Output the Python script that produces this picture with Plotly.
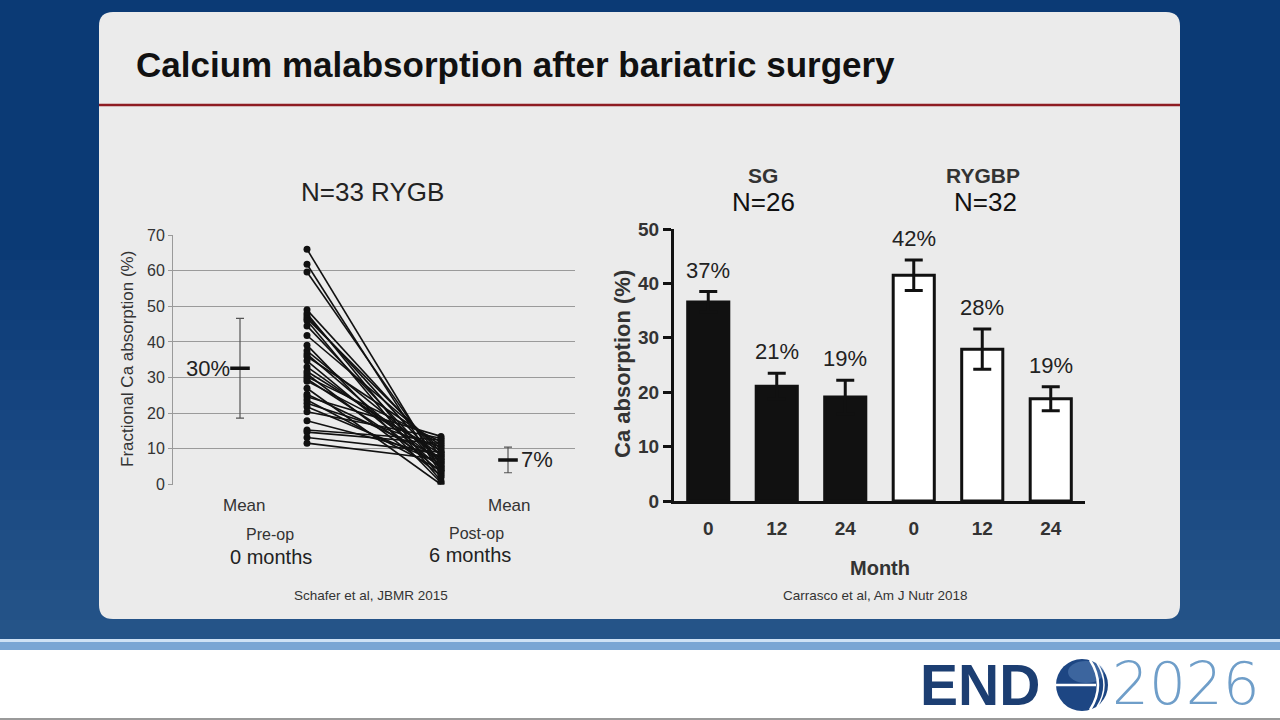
import plotly.graph_objects as go

W, H = 1280, 720
def px(x): return x / W
def py(y): return 1 - y / H

FONT = "Liberation Sans, Arial, sans-serif"

# ---------------- Left chart data (Schafer et al) ----------------
pre_op = [66.0, 61.8, 59.6, 49.0, 48.0, 47.3, 46.6, 46.0, 44.5, 41.8, 39.1,
          37.5, 36.6, 35.9, 34.7, 33.0, 31.7, 31.0, 30.2, 29.6, 29.0, 27.0,
          25.3, 24.6, 23.7, 22.8, 21.8, 20.4, 17.9, 15.3, 14.7, 13.2, 11.6]
post_op = [4.0, 3.0, 5.5, 8.0, 2.0, 6.0, 9.0, 1.0, 5.0, 10.0, 0.5,
           7.0, 4.5, 11.0, 3.5, 6.5, 8.5, 2.5, 12.0, 5.0, 9.5, 0.0,
           7.5, 13.5, 4.0, 10.5, 6.0, 13.0, 8.0, 12.5, 11.5, 9.0, 7.0]
means = [32.6, 6.9]
mean_err = [14.0, 3.6]
mean_labels = ["30%", "7%"]
left_cats = ["Mean", "Pre-op", "Post-op", "Mean"]
left_pos = [1, 2, 4, 5]

# ---------------- Right chart data (Carrasco et al) ----------------
month_labels = ["0", "12", "24", "0", "12", "24"]
sg_vals = [36.6, 21.1, 19.1]
sg_err = [1.9, 2.4, 3.1]
ry_vals = [41.5, 27.9, 18.8]
ry_err = [2.8, 3.7, 2.2]
pct_labels = ["37%", "21%", "19%", "42%", "28%", "19%"]

fig = go.Figure()

# paired lines
lx, ly = [], []
for a, b in zip(pre_op, post_op):
    lx += [left_pos[1], left_pos[2], None]
    ly += [a, b, None]
fig.add_trace(go.Scatter(x=lx, y=ly, mode="lines+markers",
                         line=dict(color="#111111", width=1.6),
                         marker=dict(color="#111111", size=7),
                         xaxis="x", yaxis="y", showlegend=False, hoverinfo="skip"))
# means with error bars
fig.add_trace(go.Scatter(x=[left_pos[0], left_pos[3]], y=means, mode="markers",
                         marker=dict(symbol="line-ew", size=14,
                                     line=dict(color="#111111", width=3.5)),
                         error_y=dict(type="data", array=mean_err, color="#555555",
                                      thickness=1.2, width=4),
                         xaxis="x", yaxis="y", showlegend=False))

# bars
fig.add_trace(go.Bar(x=[0, 1, 2], y=sg_vals, width=0.6,
                     marker=dict(color="#111111", line=dict(color="#111111", width=3)),
                     error_y=dict(type="data", array=sg_err, color="#111111",
                                  thickness=3, width=9),
                     xaxis="x2", yaxis="y2", showlegend=False))
fig.add_trace(go.Bar(x=[3, 4, 5], y=ry_vals, width=0.6,
                     marker=dict(color="#ffffff", line=dict(color="#111111", width=3)),
                     error_y=dict(type="data", array=ry_err, color="#111111",
                                  thickness=3, width=9),
                     xaxis="x2", yaxis="y2", showlegend=False))

shapes = []
# background lightening bands (soft vertical gradient)
for y0 in range(260, 640, 30):
    shapes.append(dict(type="rect", xref="paper", yref="paper", x0=0, x1=1,
                       y0=py(640), y1=py(y0), fillcolor="rgba(110,150,200,0.025)",
                       line=dict(width=0), layer="below"))
# panel with rounded corners
x0, x1, y0, y1, r = 99, 1180, 12, 619, 14
rx, ry = r / W, r / H
X0, X1, Yt, Yb = px(x0), px(x1), py(y0), py(y1)
path = (f"M {X0+rx},{Yt} L {X1-rx},{Yt} Q {X1},{Yt} {X1},{Yt-ry} "
        f"L {X1},{Yb+ry} Q {X1},{Yb} {X1-rx},{Yb} L {X0+rx},{Yb} "
        f"Q {X0},{Yb} {X0},{Yb+ry} L {X0},{Yt-ry} Q {X0},{Yt} {X0+rx},{Yt} Z")
shapes.append(dict(type="path", xref="paper", yref="paper", path=path,
                   fillcolor="#ebebeb", line=dict(width=0), layer="below"))
# red rule
shapes.append(dict(type="line", xref="paper", yref="paper", x0=px(99), x1=px(1180),
                   y0=py(105), y1=py(105), line=dict(color="#8e1b22", width=2.5), layer="below"))
# bottom band
shapes.append(dict(type="rect", xref="paper", yref="paper", x0=0, x1=1, y0=py(650), y1=py(640),
                   fillcolor="#7aa6d4", line=dict(width=0), layer="below"))
shapes.append(dict(type="rect", xref="paper", yref="paper", x0=0, x1=1, y0=py(642), y1=py(639),
                   fillcolor="#cfe2f5", line=dict(width=0), layer="below"))
shapes.append(dict(type="rect", xref="paper", yref="paper", x0=0, x1=1, y0=0, y1=py(650),
                   fillcolor="#ffffff", line=dict(width=0), layer="below"))
shapes.append(dict(type="rect", xref="paper", yref="paper", x0=0, x1=1, y0=0, y1=py(718),
                   fillcolor="#9a9a9a", line=dict(width=0), layer="below"))
# globe of logo
gcx, gcy, gr = 1082, 685, 26
shapes.append(dict(type="circle", xref="paper", yref="paper",
                   x0=px(gcx-gr), x1=px(gcx+gr), y0=py(gcy+gr), y1=py(gcy-gr),
                   fillcolor="#1d4683", line=dict(width=0), layer="above"))
shapes.append(dict(type="circle", xref="paper", yref="paper",
                   x0=px(gcx-14), x1=px(gcx+22), y0=py(gcy-2), y1=py(gcy-24),
                   fillcolor="rgba(120,160,210,0.35)", line=dict(width=0), layer="above"))
shapes.append(dict(type="line", xref="paper", yref="paper", x0=px(gcx-gr), x1=px(gcx+14),
                   y0=py(gcy), y1=py(gcy), line=dict(color="#ffffff", width=2.5), layer="above"))
shapes.append(dict(type="path", xref="paper", yref="paper",
                   path=f"M {px(gcx+8)},{py(gcy-25)} Q {px(gcx+24)},{py(gcy)} {px(gcx+8)},{py(gcy+25)}",
                   line=dict(color="#ffffff", width=2.5), layer="above"))
shapes.append(dict(type="path", xref="paper", yref="paper",
                   path=f"M {px(gcx+15)},{py(gcy-22)} Q {px(gcx+29)},{py(gcy)} {px(gcx+15)},{py(gcy+22)}",
                   line=dict(color="#ffffff", width=1.5), layer="above"))

ann = []
def A(text, x, y, size, color="#222222", bold=False, xanchor="center", yanchor="middle",
      angle=0, family=FONT, weight=None):
    ann.append(dict(text=text, x=px(x), y=py(y), xref="paper", yref="paper",
                    showarrow=False, xanchor=xanchor, yanchor=yanchor, textangle=angle,
                    font=dict(family=family, size=size, color=color,
                              weight=weight if weight else ("bold" if bold else "normal"))))

A("Calcium malabsorption after bariatric surgery", 134, 64, 35, "#111111", bold=True, xanchor="left")
# left chart text
A("N=33 RYGB", 372, 192, 26, "#222222")
A("Fractional Ca absorption (%)", 127, 359, 17, "#333333", angle=-90)
A(left_cats[0], 244, 506, 17, "#333333")
A(left_cats[3], 509, 506, 17, "#333333")
A(left_cats[1], 270, 534, 16, "#333333")
A("0 months", 271, 557, 20, "#222222")
A(left_cats[2], 476, 533, 16, "#333333")
A("6 months", 470, 555, 20, "#222222")
ann.append(dict(text=mean_labels[0], x=left_pos[0], y=means[0], xref="x", yref="y",
                showarrow=False, xanchor="right", yanchor="middle", xshift=-8,
                font=dict(family=FONT, size=22, color="#222222")))
ann.append(dict(text=mean_labels[1], x=left_pos[3], y=means[1], xref="x", yref="y",
                showarrow=False, xanchor="left", yanchor="middle", xshift=11,
                font=dict(family=FONT, size=22, color="#222222")))
A("Schafer et al, JBMR 2015", 371, 595, 13.5, "#333333")

# right chart text
A("SG", 763, 175, 21, "#333333", bold=True)
A("N=26", 763, 202, 26, "#111111")
A("RYGBP", 983, 175, 21, "#333333", bold=True)
A("N=32", 985, 202, 26, "#111111")
A("Ca absorption (%)", 622, 364, 22, "#333333", bold=True, angle=-90)
A("Month", 880, 568, 20, "#333333", bold=True)
A("Carrasco et al, Am J Nutr 2018", 875, 595, 13.5, "#333333")
all_vals = sg_vals + ry_vals
all_err = sg_err + ry_err
for i, (v, e, t) in enumerate(zip(all_vals, all_err, pct_labels)):
    ann.append(dict(text=t, x=i, y=v + e, xref="x2", yref="y2", showarrow=False,
                    xanchor="center", yanchor="bottom", yshift=7,
                    font=dict(family=FONT, size=22, color="#222222")))

# logo text
A("END", 918, 685, 57, "#1c3e72", bold=True, xanchor="left")
A("2026", 1110, 684, 58, "#6f9ec9", xanchor="left", family="DejaVu Sans, Lato, sans-serif", weight=200)

fig.update_layout(
    width=W, height=H, margin=dict(l=0, r=0, t=0, b=0, pad=0, autoexpand=False),
    autosize=False,
    paper_bgcolor="#0b3a75", plot_bgcolor="rgba(0,0,0,0)",
    barmode="overlay", showlegend=False,
    font=dict(family=FONT),
    shapes=shapes, annotations=ann,
    xaxis=dict(domain=[px(173), px(575)], range=[0, 6], showgrid=False, zeroline=False,
               showline=False, showticklabels=False, fixedrange=True, automargin=False),
    yaxis=dict(domain=[py(484.5), py(235)], range=[0, 70], dtick=10, showgrid=True,
               gridcolor="#9a9a9a", gridwidth=1, zeroline=False, showline=True,
               linecolor="#9a9a9a", linewidth=1, ticks="outside", ticklen=4,
               tickcolor="#9a9a9a", automargin=False,
               tickfont=dict(size=16, color="#333333", family=FONT)),
    xaxis2=dict(domain=[px(674), px(1085)], range=[-0.5, 5.5], tickvals=[0, 1, 2, 3, 4, 5],
                ticktext=month_labels, showgrid=False, zeroline=False, showline=True,
                linecolor="#111111", linewidth=3, ticks="outside", ticklen=8,
                tickcolor="rgba(0,0,0,0)", automargin=False,
                tickfont=dict(size=19, color="#333333", family=FONT, weight="bold"),
                anchor="y2"),
    yaxis2=dict(domain=[py(501), py(229)], range=[0, 50], dtick=10, showgrid=False,
                zeroline=False, showline=True, linecolor="#111111", linewidth=3,
                ticks="outside", ticklen=8, tickwidth=3, tickcolor="#111111", automargin=False,
                tickfont=dict(size=19, color="#333333", family=FONT, weight="bold"),
                anchor="x2"),
)

fig.write_html("out.html", config={"displayModeBar": False},
               post_script="document.body.style.margin='0';document.body.style.overflow='hidden';")
